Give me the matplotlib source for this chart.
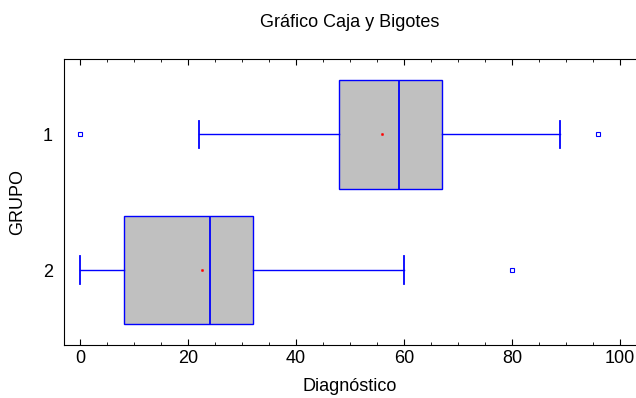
import matplotlib
matplotlib.use("Agg")
import matplotlib.pyplot as plt
from matplotlib.ticker import MultipleLocator

plt.rcParams['font.family'] = ['Liberation Sans', 'DejaVu Sans']

# Datos
grupos = ['1', '2']
bigote_inf = [22, 0]
q1 = [48, 8]
mediana = [59, 24]
q3 = [67, 32]
bigote_sup = [89, 60]
media = [56, 22.5]
atipicos = [[0, 96], [80]]

azul = '#0000FF'
gris = '#C0C0C0'

stats = []
for i in range(len(grupos)):
    stats.append({'label': grupos[i], 'whislo': bigote_inf[i], 'q1': q1[i],
                  'med': mediana[i], 'q3': q3[i], 'whishi': bigote_sup[i],
                  'mean': media[i], 'fliers': atipicos[i]})

fig = plt.figure(figsize=(6.36, 3.98), dpi=100)
ax = fig.add_axes([0.101, 0.134, 0.899, 0.718])

ax.bxp(stats, positions=[1, 2], vert=False, widths=0.8, capwidths=0.2,
       patch_artist=True, showmeans=True,
       boxprops=dict(facecolor=gris, edgecolor=azul, linewidth=1),
       medianprops=dict(color=azul, linewidth=1.3),
       whiskerprops=dict(color=azul, linewidth=1),
       capprops=dict(color=azul, linewidth=1.3),
       flierprops=dict(marker='s', markersize=2.2, markerfacecolor='none',
                       markeredgecolor=azul, markeredgewidth=0.8),
       meanprops=dict(marker='s', markersize=1.2, markerfacecolor='red',
                      markeredgecolor='red', markeredgewidth=0.5))

ax.set_xlim(-3, 103)
ax.set_ylim(2.55, 0.445)
ax.set_yticks([1, 2])
ax.set_yticklabels(grupos)
ax.xaxis.set_major_locator(MultipleLocator(20))
ax.xaxis.set_minor_locator(MultipleLocator(5))
ax.tick_params(axis='x', which='both', direction='in', top=True, labelsize=13, pad=4)
ax.tick_params(axis='x', which='major', length=4)
ax.tick_params(axis='x', which='minor', length=2.5)
ax.tick_params(axis='y', length=0, labelsize=13, pad=8)
ax.spines['right'].set_visible(False)

ax.set_xlabel('Diagnóstico', fontsize=13, labelpad=8)
ax.set_ylabel('GRUPO', fontsize=13, labelpad=12)
ax.set_title('Gráfico Caja y Bigotes', fontsize=13, pad=23)

fig.savefig('out.png', dpi=100)
